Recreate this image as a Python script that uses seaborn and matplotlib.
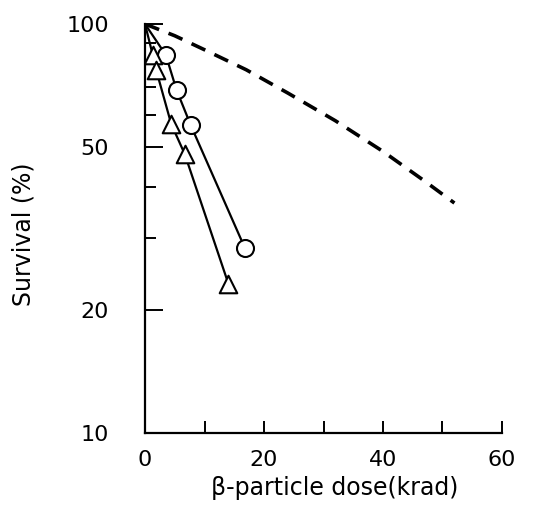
import matplotlib
matplotlib.use("Agg")
import matplotlib.pyplot as plt
import seaborn as sns
import pandas as pd
from matplotlib.ticker import FixedLocator, NullFormatter

# Data (dose in krad, survival in %)
circle_dose = [3.5, 5.3, 7.7, 16.8]
circle_surv = [84, 69, 56.5, 28.3]

triangle_dose = [1.3, 1.9, 4.4, 6.7, 14.0]
triangle_surv = [84, 77, 57, 48, 23.2]

# dashed reference curve
dashed_dose = [0, 5, 10, 17, 24, 32, 40, 47, 52]
dashed_surv = [100, 93.6, 86.5, 77.3, 67.8, 58, 48.8, 41.3, 36.5]

x_ticks = [0, 10, 20, 30, 40, 50, 60]
x_labels = ["0", "", "20", "", "40", "", "60"]
y_major = [10, 20, 50, 100]
y_minor = [30, 40, 60, 70, 80, 90]

sns.set_style("ticks")
plt.rcParams['font.family'] = ['DejaVu Sans']
plt.rcParams['text.color'] = 'black'
plt.rcParams['axes.labelcolor'] = 'black'
plt.rcParams['xtick.color'] = 'black'
plt.rcParams['ytick.color'] = 'black'
plt.rcParams['axes.edgecolor'] = 'black'

fig = plt.figure(figsize=(5.35, 5.07), dpi=100)
ax = fig.add_axes([145 / 535, 1 - 433 / 507, (502 - 145) / 535, (433 - 24) / 507])

circ_df = pd.DataFrame({'dose': [0] + circle_dose, 'surv': [100] + circle_surv})
tri_df = pd.DataFrame({'dose': [0] + triangle_dose, 'surv': [100] + triangle_surv})

sns.lineplot(x='dose', y='surv', data=circ_df, ax=ax, color='black', lw=1.6, sort=False)
sns.lineplot(x='dose', y='surv', data=tri_df, ax=ax, color='black', lw=1.6, sort=False)
sns.lineplot(x=dashed_dose, y=dashed_surv, ax=ax, color='black', lw=2.6,
             linestyle=(0, (4.2, 2.8)), sort=False)

sns.scatterplot(x=circle_dose, y=circle_surv, ax=ax, marker='o', s=150,
                facecolor='white', edgecolor='black', linewidth=1.5, zorder=5)
sns.scatterplot(x=triangle_dose, y=triangle_surv, ax=ax, marker='^', s=160,
                facecolor='white', edgecolor='black', linewidth=1.5, zorder=5)

ax.set_yscale('log')
ax.set_xlim(0, 60)
ax.set_ylim(10, 100)

ax.xaxis.set_major_locator(FixedLocator(x_ticks))
ax.set_xticklabels(x_labels)
ax.yaxis.set_major_locator(FixedLocator(y_major))
ax.yaxis.set_minor_locator(FixedLocator(y_minor))
ax.set_yticklabels([str(v) for v in y_major])
ax.yaxis.set_minor_formatter(NullFormatter())

ax.tick_params(axis='x', direction='in', length=8.5, width=1.4, labelsize=16, pad=12)
ax.tick_params(axis='y', which='major', direction='in', length=13, width=1.4,
               labelsize=16, pad=26)
ax.tick_params(axis='y', which='minor', direction='in', length=8, width=1.4)

for side in ['top', 'right']:
    ax.spines[side].set_visible(False)
for side in ['left', 'bottom']:
    ax.spines[side].set_linewidth(1.6)

ax.set_xlabel('β-particle dose(krad)', fontsize=17)
ax.set_ylabel('Survival (%)', fontsize=17)
ax.xaxis.set_label_coords(0.532, -0.105)
ax.yaxis.set_label_coords(-0.308, 0.485)

fig.savefig('out.png', dpi=100)
